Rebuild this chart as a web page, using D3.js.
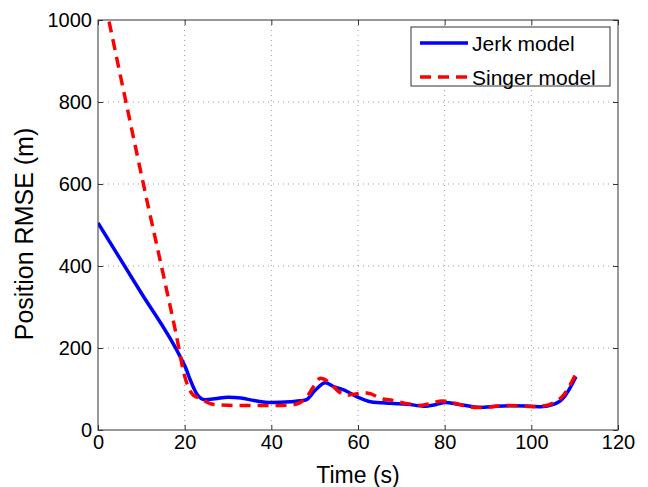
<!DOCTYPE html>
<html>
<head>
<meta charset="utf-8">
<script src="https://cdn.jsdelivr.net/npm/d3@7"></script>
<style>
  body { margin: 0; background: #fff; }
  text { font-family: "Liberation Sans", Arial, Helvetica, sans-serif; fill: #000; }
</style>
</head>
<body>
<div id="chart"></div>
<script>
var width = 648,
    height = 487;

var margin = {top: 20, right: 30, bottom: 57, left: 98};
var innerW = width - margin.left - margin.right,
    innerH = height - margin.top - margin.bottom;

// values
var jerkTime = [0, 9.7, 19.3, 20.3, 21.3, 22.8, 24.7, 27, 30, 33, 36, 40, 44.4, 47.9, 50.2, 52.5, 54.4, 56.7, 59.8, 62.9, 67.5, 71.4, 75.2, 78, 80.2, 83, 88.3, 92, 96, 100, 102.2, 105.3, 107.6, 110.3];
var jerkRMSE = [505, 339, 172, 150, 122, 88, 74, 76, 80, 78, 72, 67, 69, 73, 98, 115, 106, 98, 81, 69, 65, 63, 58, 62, 67, 63, 55, 58, 59, 58, 57, 63, 81, 130];

var singerTime = [0, 2.4, 11.6, 15.5, 18.6, 19.4, 20.5, 22, 23.6, 26, 28, 32, 36, 40, 44.4, 46.5, 48.2, 50, 51.3, 53.6, 55.5, 57.5, 59.5, 61.3, 63, 65.2, 67.5, 71, 74.3, 77, 79.4, 82, 85, 87.5, 91, 95, 100.5, 103, 105, 107.5, 110.3];
var singerRMSE = [1125, 1004, 545, 358, 203, 158, 114, 85, 77, 64, 61, 60, 60, 60, 61, 66, 81, 110, 126, 114, 94, 85, 88, 91, 88, 77, 73, 65, 60, 65, 71, 66, 58, 55, 57, 60, 57, 59, 66, 86, 138];

var xTicks = [0, 20, 40, 60, 80, 100, 120];
var yTicks = [0, 200, 400, 600, 800, 1000];

var seriesNames = ["Jerk model", "Singer model"];
var seriesColors = ["#0000ff", "#ff0000"];
var seriesDash = [null, "11,7"];

var svg = d3.select("#chart")
  .append("svg")
    .attr("width", width)
    .attr("height", height);

var g = svg.append("g")
    .attr("transform", "translate(" + margin.left + "," + margin.top + ")");

var x = d3.scaleLinear().domain([0, 120]).range([0, innerW]);
var y = d3.scaleLinear().domain([0, 1000]).range([innerH, 0]);

// dotted grid
g.append("g")
  .selectAll("line")
  .data(xTicks.slice(1, -1))
  .enter().append("line")
    .attr("x1", function(d) { return x(d); })
    .attr("x2", function(d) { return x(d); })
    .attr("y1", 0)
    .attr("y2", innerH)
    .attr("stroke", "#9a9a9a")
    .attr("stroke-width", 1)
    .attr("stroke-dasharray", "1,4");

g.append("g")
  .selectAll("line")
  .data(yTicks.slice(1, -1))
  .enter().append("line")
    .attr("x1", 0)
    .attr("x2", innerW)
    .attr("y1", function(d) { return y(d); })
    .attr("y2", function(d) { return y(d); })
    .attr("stroke", "#9a9a9a")
    .attr("stroke-width", 1)
    .attr("stroke-dasharray", "1,4");

// clip so the singer curve stops at the top of the box
g.append("clipPath")
    .attr("id", "clip")
  .append("rect")
    .attr("width", innerW)
    .attr("height", innerH);

var line = d3.line()
    .x(function(d) { return x(d[0]); })
    .y(function(d) { return y(d[1]); })
    .curve(d3.curveMonotoneX);

var series = [
  d3.zip(jerkTime, jerkRMSE),
  d3.zip(singerTime, singerRMSE)
];

// red dashes sit on top of the blue line
[0, 1].forEach(function(i) {
  g.append("path")
    .datum(series[i])
    .attr("clip-path", "url(#clip)")
    .attr("fill", "none")
    .attr("stroke", seriesColors[i])
    .attr("stroke-width", 3.5)
    .attr("stroke-dasharray", seriesDash[i])
    .attr("stroke-linejoin", "round")
    .attr("d", line);
});

// axes, MATLAB style: ticks point inward, on all four sides
var axisStyle = function(sel) {
  sel.select(".domain").remove();
  sel.selectAll(".tick line").attr("stroke", "#333");
  sel.selectAll(".tick text").style("font-size", "20px");
};

g.append("g")
    .attr("transform", "translate(0," + innerH + ")")
    .call(d3.axisBottom(x).tickValues(xTicks).tickFormat(d3.format("d"))
      .tickSizeInner(-5).tickSizeOuter(0).tickPadding(5))
    .call(axisStyle);

g.append("g")
    .call(d3.axisLeft(y).tickValues(yTicks).tickFormat(d3.format("d"))
      .tickSizeInner(-5).tickSizeOuter(0).tickPadding(6))
    .call(axisStyle);

g.append("g")
    .call(d3.axisTop(x).tickValues(xTicks).tickSizeInner(-5).tickSizeOuter(0).tickFormat(""))
    .call(axisStyle);

g.append("g")
    .attr("transform", "translate(" + innerW + ",0)")
    .call(d3.axisRight(y).tickValues(yTicks).tickSizeInner(-5).tickSizeOuter(0).tickFormat(""))
    .call(axisStyle);

// box
g.append("rect")
    .attr("width", innerW)
    .attr("height", innerH)
    .attr("fill", "none")
    .attr("stroke", "#333")
    .attr("stroke-width", 1);

// axis labels
svg.append("text")
    .attr("x", margin.left + x(60))
    .attr("y", 483)
    .attr("text-anchor", "middle")
    .style("font-size", "23px")
    .text("Time (s)");

svg.append("text")
    .attr("transform", "translate(33,234) rotate(-90)")
    .attr("text-anchor", "middle")
    .style("font-size", "25px")
    .text("Position RMSE (m)");

// legend
var legend = svg.append("g")
    .attr("transform", "translate(411,27)");

legend.append("rect")
    .attr("width", 199)
    .attr("height", 59)
    .attr("fill", "#fff")
    .attr("stroke", "#333")
    .attr("stroke-width", 1);

seriesNames.forEach(function(name, i) {
  var row = legend.append("g")
      .attr("transform", "translate(0," + (16 + i * 34) + ")");
  row.append("line")
      .attr("x1", 9)
      .attr("x2", 57)
      .attr("stroke", seriesColors[i])
      .attr("stroke-width", 3.5)
      .attr("stroke-dasharray", seriesDash[i]);
  row.append("text")
      .attr("x", 61)
      .attr("y", 8)
      .style("font-size", "21px")
      .text(name);
});
</script>
</body>
</html>
